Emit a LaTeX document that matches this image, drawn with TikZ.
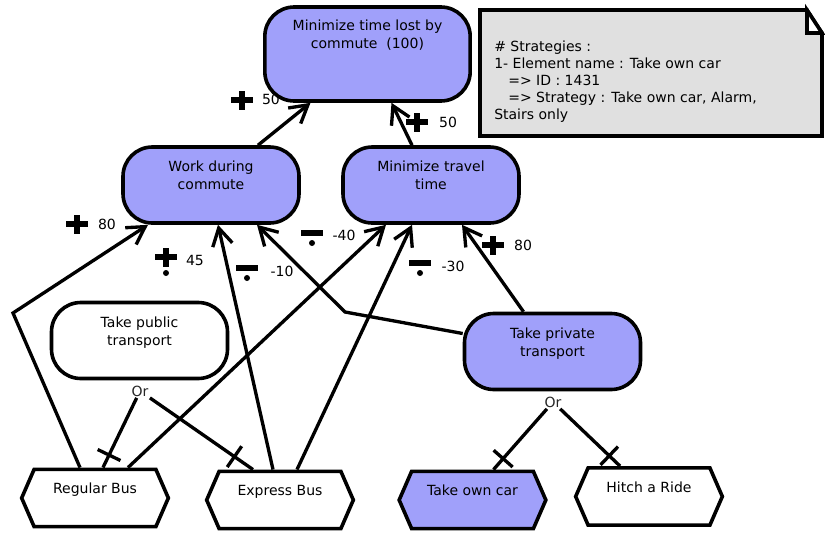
\documentclass[tikz,border=0pt]{standalone}
\usepackage{fontspec}
\setmainfont{DejaVu Sans}
\usepackage{xcolor}
\usetikzlibrary{positioning}
\usetikzlibrary{arrows.meta}
\usetikzlibrary{shapes}
\usetikzlibrary{calc}
\definecolor{softblue}{RGB}{160,160,250}
\definecolor{notegray}{RGB}{224,224,224}

\begin{document}
\begin{tikzpicture}[x=0.75pt,y=-0.75pt,
    goal/.style={draw=black,fill=softblue,line width=2.7pt,rectangle,rounded corners=22pt,
        align=center,minimum width=132pt,minimum height=57pt,text depth=14pt,
        font=\fontsize{10.5pt}{13.5pt}\selectfont},
    task/.style={draw=black,fill=white,line width=2.7pt,signal,signal to=west and east,
        signal pointer angle=133,minimum width=110pt,minimum height=43pt,text depth=14pt,
        font=\fontsize{10.5pt}{13.5pt}\selectfont},
    contrib/.style={line width=2.5pt,-{Straight Barb[length=13pt,width=15pt]}},
    decomp/.style={line width=2.5pt},
    tick/.style={draw,line width=2.5pt,inner sep=0pt,minimum width=0pt,minimum height=19pt},
    orlabel/.style={inner sep=1pt,font=\fontsize{10.5pt}{12pt}\selectfont,text=black!85},
    value/.style={font=\fontsize{10.5pt}{12pt}\selectfont},
    make/.pic={\fill (-11,-3) rectangle (11,3); \fill (-3,-9.5) rectangle (3,9.5);},
    someplus/.pic={\fill (-11,-3) rectangle (11,3); \fill (-3,-9.5) rectangle (3,9.5);
        \fill (0,16) circle (3);},
    someminus/.pic={\fill (-11,-3) rectangle (11,3); \fill (0,10) circle (3);}]
\useasboundingbox (0,0) rectangle (825,533);

% strategy note
\draw[line width=2.7pt,fill=notegray] (480,10) -- (807,10) -- (822,33) -- (822,136) -- (480,136) -- cycle;
\draw[line width=2.7pt,fill=white] (807,10) -- (807,33) -- (822,33) -- cycle;
\node[anchor=north west,align=left,inner sep=0pt,font=\fontsize{10.5pt}{12.75pt}\selectfont] (strategies) at (494,41)
    {\#~Strategies :\\1- Element name : Take own car\\\hspace*{10.5pt}=> ID : 1431\\\hspace*{10.5pt}=> Strategy : Take own car, Alarm,\\Stairs only};

\node[goal,minimum width=154pt,minimum height=70.5pt,text depth=30pt] (lost) at (367.5,54) {Minimize time lost by\\commute\ \ (100)};
\node[goal] (work) at (211,185) {Work during\\commute};
\node[goal] (travel) at (431,185) {Minimize travel\\time};
\node[goal,fill=white] (public) at (139.5,340.5) {Take public\\transport};
\node[goal] (private) at (552.5,351.5) {Take private\\transport};
\node[task] (regular) at (95,498) {Regular Bus};
\node[task] (express) at (280,500) {Express Bus};
\node[task,fill=softblue] (owncar) at (472.5,500) {Take own car};
\node[task] (hitch) at (649,496.5) {Hitch a Ride};

\coordinate (bendwest) at (13,313);
\coordinate (bendmid) at (345,312);

\draw[contrib] ($(work.north)+(47,0)$) -- ($(lost.south)+(-57,0)$);
\draw[contrib] ($(travel.north)+(-19,0)$) -- ($(lost.south)+(24,0)$);
\draw[contrib] ($(regular.north)+(-15,0)$) -- (bendwest) -- ($(work.south)+(-63,0)$);
\draw[contrib] ($(regular.north)+(33,0)$) -- ($(travel.south)+(-45,0)$);
\draw[contrib] ($(express.north)+(-7,0)$) -- ($(work.south)+(7,0)$);
\draw[contrib] ($(express.north)+(17,0)$) -- ($(travel.south)+(-19,0)$);
\draw[contrib] ($(private.west)+(0,-18)$) -- (bendmid) -- ($(work.south)+(46,0)$);
\draw[contrib] ($(private.north)+(-29,0)$) -- ($(travel.south)+(31,0)$);

\node[orlabel] (publicor) at (140,391) {Or};
\node[orlabel] (privateor) at (553,402) {Or};
\draw[decomp] (publicor) -- node[tick,pos=0.82,sloped] {} ($(regular.north)+(8,0)$);
\draw[decomp] (publicor) -- node[tick,pos=0.82,sloped] {} ($(express.north)+(-27,0)$);
\draw[decomp] (privateor) -- node[tick,pos=0.82,sloped] {} ($(owncar.north)+(21,0)$);
\draw[decomp] (privateor) -- node[tick,pos=0.82,sloped] {} ($(hitch.north)+(-29,0)$);

\pic at (242,100) {make};      \node[value] (work50) at (271,99) {50};
\pic at (417,122) {make};      \node[value] (travel50) at (448,122) {50};
\pic at (77,224) {make};       \node[value] (regular80) at (107,224) {80};
\pic at (166,257) {someplus};  \node[value] (express45) at (195,260) {45};
\pic at (247,268) {someminus}; \node[value] (private10) at (282,271) {-10};
\pic at (312,233) {someminus}; \node[value] (regular40) at (344,235) {-40};
\pic at (420,263) {someminus}; \node[value] (express30) at (453,266) {-30};
\pic at (493,245) {make};      \node[value] (private80) at (523,245) {80};
\end{tikzpicture}
\end{document}
